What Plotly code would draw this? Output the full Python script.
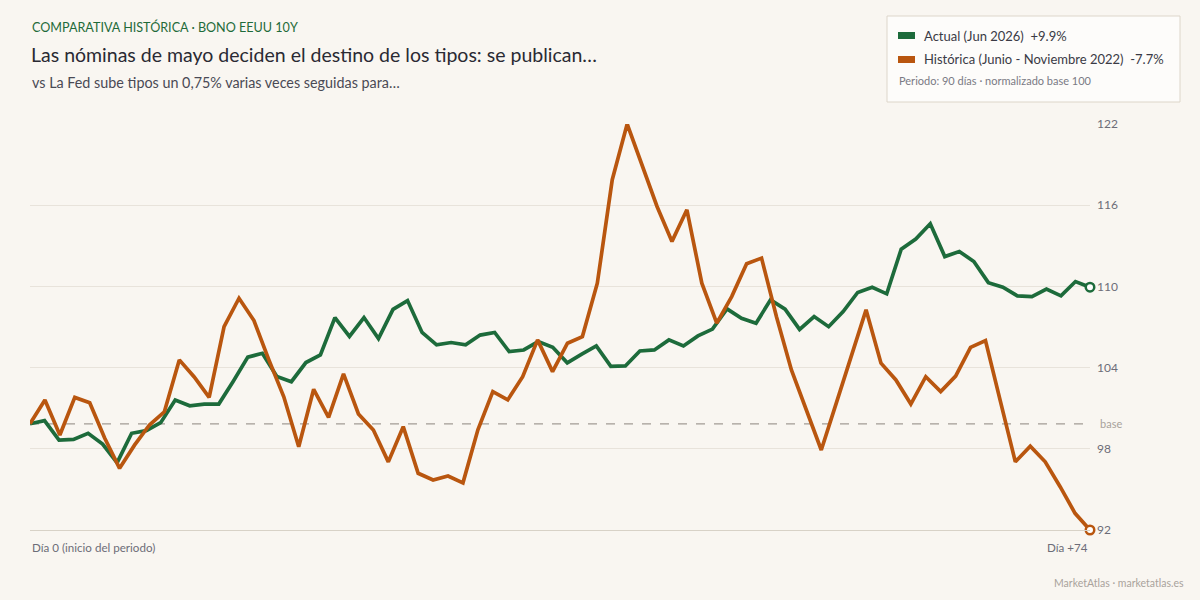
import plotly.graph_objects as go

# ---------------- data ----------------
actual_values = [
    100.0, 100.23, 98.82, 98.87, 99.31, 98.53, 97.18, 99.31, 99.5, 100.08,
    101.72, 101.3, 101.42, 101.43, 103.09, 104.83, 105.11, 103.42, 103.05, 104.44,
    104.99, 107.7, 106.33, 107.7, 106.18, 108.29, 108.93, 106.62, 105.72, 105.89,
    105.72, 106.43, 106.62, 105.23, 105.35, 105.96, 105.54, 104.42, 105.05, 105.64,
    104.16, 104.19, 105.28, 105.35, 106.08, 105.64, 106.37, 106.86, 108.33, 107.65,
    107.29, 108.98, 108.31, 106.84, 107.77, 107.04, 108.13, 109.52, 109.9, 109.42,
    112.66, 113.39, 114.5, 112.12, 112.49, 111.76, 110.23, 109.9, 109.27, 109.22,
    109.76, 109.27, 110.31, 109.9,
]
historic_values = [
    100.0, 101.72, 99.19, 101.91, 101.52, 98.97, 96.77, 98.45, 99.91, 100.87,
    104.63, 103.39, 101.91, 107.05, 109.1, 107.48, 104.63, 101.96, 98.33, 102.5,
    100.47, 103.61, 100.71, 99.55, 97.24, 99.79, 96.41, 95.92, 96.21, 95.72,
    99.56, 102.33, 101.73, 103.41, 106.08, 103.78, 105.84, 106.32, 110.19, 117.69,
    121.73, 118.65, 115.75, 113.22, 115.51, 110.19, 107.29, 109.22, 111.6, 112.01,
    107.76, 103.9, 101.0, 98.1, 101.48, 104.87, 108.26, 104.39, 103.18, 101.43,
    103.41, 102.33, 103.46, 105.54, 106.03, 101.62, 97.24, 98.38, 97.24, 95.44,
    93.51, 92.3,
]
series_names = ["Actual (Jun 2026)", "Histórica (Junio - Noviembre 2022)"]
x_labels = ["Día 0 (inicio del periodo)", "Día +74"]
base_value = 100
n_y_ticks = 6

# ---------------- style ----------------
BG = "#f9f6f1"
GREEN = "#1d6b3b"
ORANGE = "#b9560f"
FONT = "Lato"
W, H = 1200, 600
L, R, T, B = 30, 110, 124, 70


def px(x):
    return (x - L) / (W - L - R)


def py(y):
    return (H - B - y) / (H - T - B)


def xs(vals):
    n = len(vals)
    return [i / (n - 1) for i in range(n)]


all_vals = actual_values + historic_values
y_min, y_max = min(all_vals), max(all_vals)
tick_vals = [y_min + k * (y_max - y_min) / (n_y_ticks - 1) for k in range(n_y_ticks)]
tick_text = [f"{v:.0f}" for v in tick_vals]

fig = go.Figure()

fig.add_shape(type="line", xref="paper", yref="y", x0=0, x1=1, y0=base_value, y1=base_value,
              line=dict(color="#a29c95", width=1.2, dash="dash"), layer="below")

for vals, color, name in [(actual_values, GREEN, series_names[0]),
                          (historic_values, ORANGE, series_names[1])]:
    x = xs(vals)
    fig.add_trace(go.Scatter(x=x, y=vals, mode="lines", name=name,
                             line=dict(color=color, width=3.7), hoverinfo="skip",
                             showlegend=False))
    fig.add_trace(go.Scatter(x=[x[-1]], y=[vals[-1]], mode="markers",
                             marker=dict(size=8.5, color="white", line=dict(color=color, width=2.5)),
                             cliponaxis=False, showlegend=False, hoverinfo="skip"))

annotations = [
    dict(text="COMPARATIVA HISTÓRICA · BONO EEUU 10Y", x=px(30), y=py(27), xanchor="left", yanchor="middle",
         font=dict(family=FONT, size=12.6, color="#1f6b3a")),
    dict(text="Las nóminas de mayo deciden el destino de los tipos: se publican…", x=px(29), y=py(54),
         xanchor="left", yanchor="middle", font=dict(family=FONT, size=19.5, color="#2a2a33")),
    dict(text="vs La Fed sube tipos un 0,75% varias veces seguidas para…", x=px(30), y=py(82),
         xanchor="left", yanchor="middle", font=dict(family=FONT, size=14.35, color="#4a4a55")),
    dict(text=x_labels[0], x=0, y=py(547), xanchor="left", yanchor="middle",
         font=dict(family=FONT, size=11.6, color="#6d6d78")),
    dict(text=x_labels[1], x=1, y=py(547), xanchor="right", yanchor="middle",
         font=dict(family=FONT, size=11.6, color="#6d6d78")),
    dict(text="base", x=1, xshift=8, y=base_value, yref="y", xanchor="left", yanchor="middle",
         font=dict(family=FONT, size=11, color="#a8a29b")),
    dict(text="MarketAtlas · marketatlas.es", x=px(1186), y=py(583), xanchor="right", yanchor="middle",
         font=dict(family=FONT, size=10.5, color="#a9a39c")),
]
for a in annotations:
    a.setdefault("xref", "paper")
    a.setdefault("yref", "paper")
    a["showarrow"] = False

shapes = [
    dict(type="rect", xref="paper", yref="paper", x0=px(887), x1=px(1180), y0=py(102), y1=py(16),
         fillcolor="#fdfcfa", line=dict(color="#ddd6ca", width=1), layer="above"),
    dict(type="rect", xref="paper", yref="paper", x0=px(898), x1=px(915), y0=py(39), y1=py(32),
         fillcolor=GREEN, line=dict(width=0), layer="above"),
    dict(type="rect", xref="paper", yref="paper", x0=px(898), x1=px(915), y0=py(63), y1=py(56),
         fillcolor=ORANGE, line=dict(width=0), layer="above"),
]
for s in shapes:
    fig.add_shape(**s)

chg_a = actual_values[-1] - base_value
chg_h = historic_values[-1] - base_value
annotations += [
    dict(text=f"{series_names[0]}\u00a0\u00a0{chg_a:+.1f}%", x=px(922), y=py(35.5), xref="paper", yref="paper",
         xanchor="left", yanchor="middle", showarrow=False,
         font=dict(family=FONT, size=13, color="#3a3a45")),
    dict(text=f"{series_names[1]}\u00a0\u00a0{chg_h:+.1f}%", x=px(922), y=py(59.5), xref="paper", yref="paper",
         xanchor="left", yanchor="middle", showarrow=False,
         font=dict(family=FONT, size=13, color="#3a3a45")),
    dict(text="Periodo: 90 días · normalizado base 100", x=px(897), y=py(81), xref="paper", yref="paper",
         xanchor="left", yanchor="middle", showarrow=False,
         font=dict(family=FONT, size=11, color="#7a7a84")),
]

fig.update_layout(
    width=W, height=H,
    margin=dict(l=L, r=R, t=T, b=B),
    paper_bgcolor=BG, plot_bgcolor=BG,
    annotations=annotations,
    showlegend=False,
    xaxis=dict(range=[0, 1], showgrid=False, zeroline=False, showticklabels=False,
               showline=True, linecolor="#d8d2c7", linewidth=1, fixedrange=True),
    yaxis=dict(range=[y_min, y_max], side="right", tickvals=tick_vals,
               ticktext=tick_text, showgrid=True, gridcolor="#e8e3db",
               gridwidth=1, zeroline=False, showline=False, ticks="",
               ticklabelstandoff=6,
               tickfont=dict(family=FONT, size=12, color="#6d6d78"), fixedrange=True),
)

fig.write_html("out.html")
